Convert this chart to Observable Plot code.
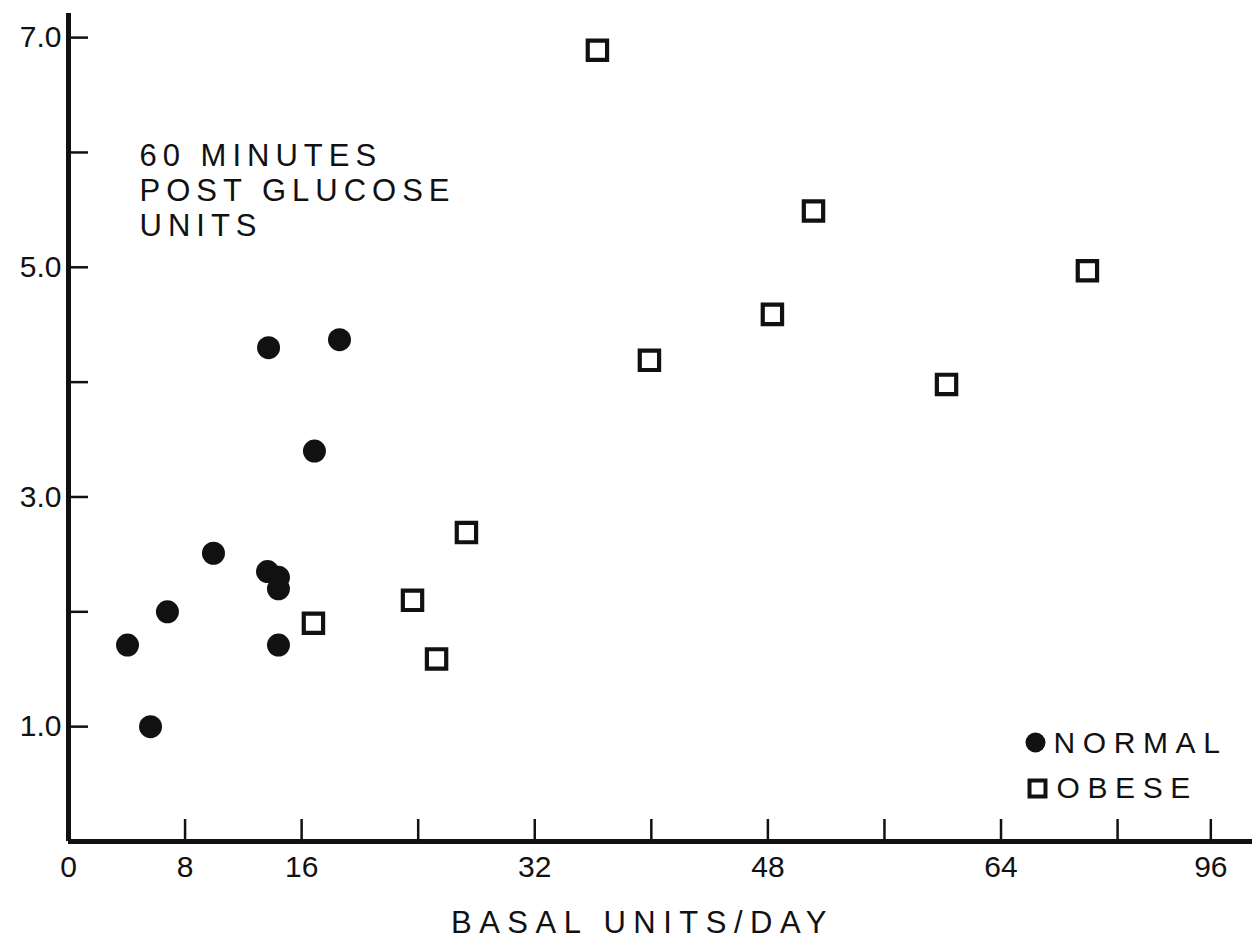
<!DOCTYPE html>
<html><head><meta charset="utf-8">
<script src="https://cdn.jsdelivr.net/npm/d3@7"></script>
<script src="https://cdn.jsdelivr.net/npm/@observablehq/plot@0.6"></script>
<style>
html,body{margin:0;padding:0;background:#fff;}
#chart svg{display:block;}
</style></head><body><div id="chart"></div>
<script>
// Data
const normalX = [4.05, 5.63, 6.79, 9.95, 13.66, 13.73, 14.41, 14.41, 14.41, 16.88, 18.60];
const normalY = [1.71, 1.00, 2.00, 2.51, 2.35, 4.30, 2.30, 2.20, 1.71, 3.40, 4.37];
const obeseX = [16.81, 23.61, 25.26, 27.31, 36.30, 39.87, 48.31, 51.13, 60.26, 69.93];
const obeseY = [1.90, 2.10, 1.59, 2.69, 6.89, 4.19, 4.59, 5.49, 3.98, 4.97];
const xTickValues = [8, 16, 24, 32, 40, 48, 56, 64, 72, 78.4];
const xLabelValues = [0, 8, 16, 32, 48, 64, 78.4];
const xLabelText = ["0", "8", "16", "32", "48", "64", "96"];
const yTickValues = [1, 2, 3, 4, 5, 6, 7];
const yLabelValues = [1, 3, 5, 7];
const yLabelText = ["1.0", "3.0", "5.0", "7.0"];
const groupNames = ["NORMAL", "OBESE"];
const titleLines = ["60 MINUTES", "POST GLUCOSE", "UNITS"];
const xTitle = "BASAL UNITS/DAY";

const normal = normalX.map((x, i) => ({x, y: normalY[i]}));
const obese = obeseX.map((x, i) => ({x, y: obeseY[i]}));
const xLabels = xLabelValues.map((v, i) => ({v, label: xLabelText[i]}));
const yLabels = yLabelValues.map((v, i) => ({v, label: yLabelText[i]}));

const svg = Plot.plot({
  width: 1252,
  height: 940,
  marginLeft: 68,
  marginRight: 0,
  marginTop: 13,
  marginBottom: 99,
  style: {fontFamily: "'Liberation Sans', Arial, sans-serif", color: "#111", background: "#fff"},
  x: {domain: [0, 81.26], axis: null},
  y: {domain: [0, 7.21], axis: null},
  marks: [
    Plot.ruleX([0], {strokeWidth: 5, stroke: "#111"}),
    Plot.ruleY([0], {strokeWidth: 5, stroke: "#111"}),
    Plot.axisY(yTickValues, {anchor: "left", tickSize: 20, dx: 20, tickFormat: () => "", label: null, strokeWidth: 2.5, stroke: "#111"}),
    Plot.axisX(xTickValues, {anchor: "bottom", tickSize: 22, dy: -22, tickFormat: () => "", label: null, strokeWidth: 2.5, stroke: "#111"}),
    Plot.text(yLabels, {x: () => 0, y: "v", text: "label", textAnchor: "end", dx: -7, lineAnchor: "middle", fontSize: 30, fill: "#111"}),
    Plot.text(xLabels, {x: "v", frameAnchor: "bottom", text: "label", dy: 26, lineAnchor: "middle", fontSize: 30, fill: "#111"}),
    Plot.text([titleLines.join("\n")], {frameAnchor: "top-left", textAnchor: "start", lineAnchor: "top", dx: 71, dy: 128, fontSize: 31, lineHeight: 1.13, fill: "#111"}),
    Plot.text([xTitle], {frameAnchor: "bottom", textAnchor: "middle", lineAnchor: "middle", dx: -18, dy: 82, fontSize: 31, fill: "#111"}),
    Plot.dot(normal, {x: "x", y: "y", r: 11.5, fill: "#111", stroke: "none"}),
    Plot.dot(obese, {x: "x", y: "y", r: 10.9, symbol: "square", fill: "#fff", stroke: "#111", strokeWidth: 4.2}),
    Plot.dot([groupNames[0]], {frameAnchor: "bottom-right", dx: -217, dy: -99, r: 10, fill: "#111", stroke: "none"}),
    Plot.dot([groupNames[1]], {frameAnchor: "bottom-right", dx: -215, dy: -53, r: 9, symbol: "square", fill: "#fff", stroke: "#111", strokeWidth: 4}),
    Plot.text([groupNames[0]], {frameAnchor: "bottom-right", textAnchor: "start", lineAnchor: "middle", dx: -199, dy: -98, fontSize: 30, fill: "#111"}),
    Plot.text([groupNames[1]], {frameAnchor: "bottom-right", textAnchor: "start", lineAnchor: "middle", dx: -196, dy: -53, fontSize: 30, fill: "#111"})
  ]
});

d3.select(svg).selectAll("text").each(function () {
  const t = this.textContent;
  if (t.startsWith("60")) this.setAttribute("letter-spacing", "6px");
  else if (t.startsWith("BASAL")) this.setAttribute("letter-spacing", "7.5px");
  else if (/[A-Z]/.test(t)) this.setAttribute("letter-spacing", "7.6px");
});

document.getElementById("chart").appendChild(svg);
</script>
</body></html>
